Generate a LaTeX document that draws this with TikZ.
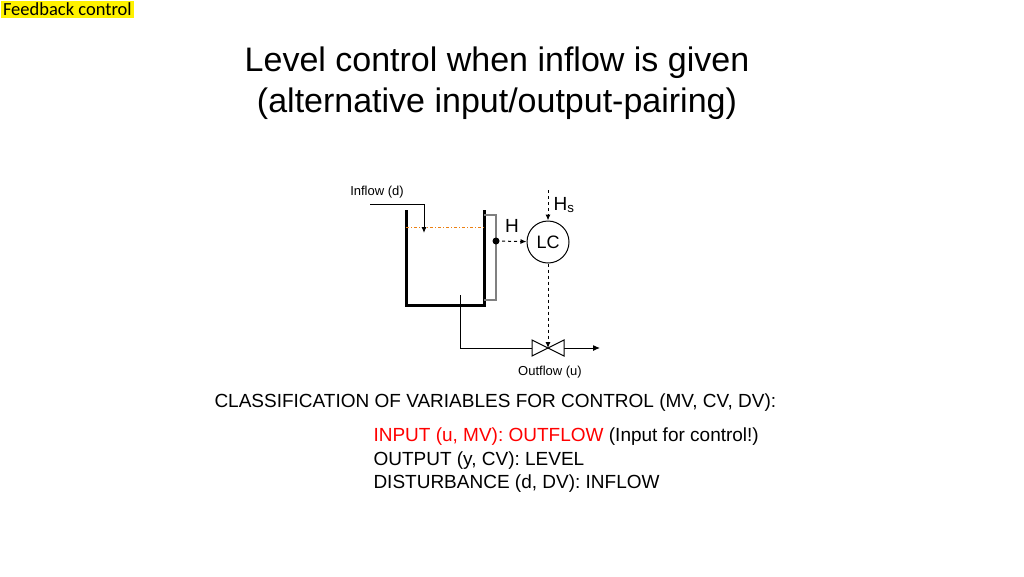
\documentclass[tikz,border=0pt]{standalone}
\usepackage{fontspec}
\setmainfont{Liberation Sans}
\newfontfamily\calfont{Carlito}
\usetikzlibrary{positioning,arrows.meta}
\begin{document}
\begin{tikzpicture}[x=1pt,y=-1pt, line width=1pt,
	wall/.style={line width=3pt},
	sig/.style={dashed, -{Latex[length=6pt,width=5pt]}},
	pipe/.style={line width=1pt},
	lbl/.style={font=\fontsize{13}{15}\selectfont, inner sep=1pt},
	txt/.style={font=\fontsize{19}{23}\selectfont, align=left, anchor=west, inner sep=0pt}
	]
	\useasboundingbox (0,0) rectangle (1024,576);
	
	% tag and title
	\node[fill=yellow, anchor=north west, inner sep=2.5pt, font=\calfont\fontsize{18.5}{21}\selectfont] (tag) at (0,0) {Feedback control};
	\node[font=\fontsize{34}{41}\selectfont, align=center] (title) at (497,83) {Level control when inflow is given\\(alternative input/output-pairing)};
	
	% tank
	\draw[wall] (406,210) -- (406,305) -- (484,305) -- (484,210);
	\draw[orange!70!brown, dash dot] (406,227) -- (484,227);
	\draw[gray, line width=1.3pt] (484,215) -- (496,215) -- (496,300) -- (484,300);
	\coordinate (meas) at (496,241);
	\fill (meas) circle (3.5pt);
	
	% inflow
	\node[lbl] (inlbl) at (377,192) {Inflow (d)};
	\draw[pipe, -{Latex[length=6pt,width=5pt]}] (370,204) -- (424,204) -- (424,233);
	
	% controller
	\node[circle, draw, minimum size=42pt, font=\fontsize{18}{20}\selectfont] (lc) at (548,242) {LC};
	\node[font=\fontsize{19}{21}\selectfont] (hlbl) at (512,226) {H};
	\node[font=\fontsize{19}{21}\selectfont] (hs) at (564,205) {H\textsubscript{s}};
	\coordinate (hstop) at (548,190);
	\draw[sig] (meas) -- (lc);
	\draw[sig] (hstop) -- (lc);
	
	% outlet and valve
	\coordinate (valve) at (548,348);
	\draw[pipe, -{Latex[length=7pt,width=6pt]}] (460,295) -- (460,348) -- (600,348);
	\draw[fill=white] (532,340) -- (564,356) -- (564,340) -- (532,356) -- cycle;
	\draw[sig] (lc) -- (valve);
	\node[lbl] (outlbl) at (550,372) {Outflow (u)};
	
	% classification text
	\node[txt] (cls) at (214,403) {CLASSIFICATION OF VARIABLES FOR CONTROL (MV, CV, DV):};
	\node[txt] (inp) at (373,437) {\textcolor{red}{INPUT (u, MV): OUTFLOW} (Input for control!)};
	\node[txt] (outp) at (373,461) {OUTPUT (y, CV): LEVEL};
	\node[txt] (dist) at (373,484) {DISTURBANCE (d, DV): INFLOW};
\end{tikzpicture}
\end{document}
